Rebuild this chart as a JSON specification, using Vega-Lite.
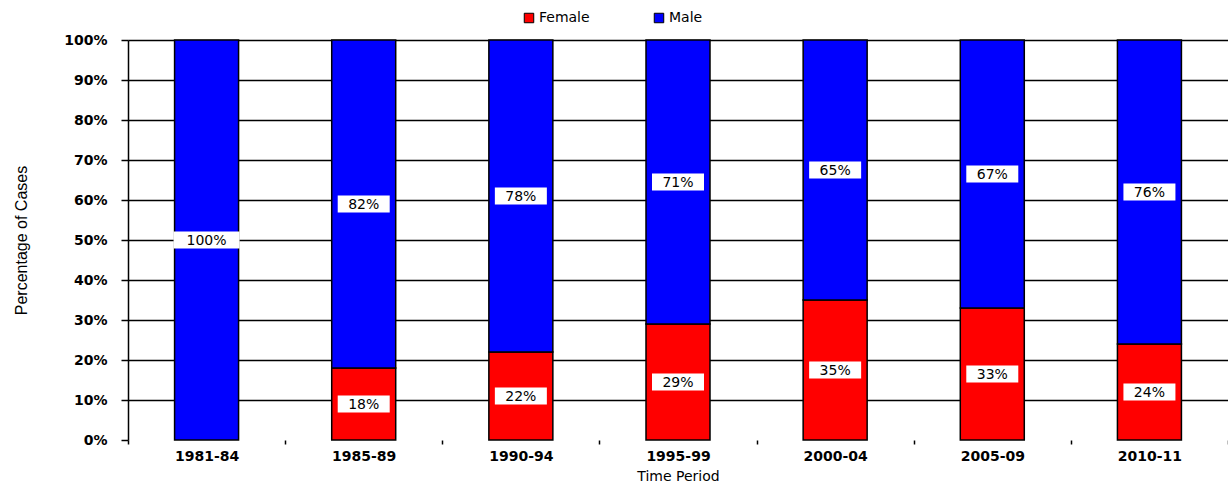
{
  "$schema": "https://vega.github.io/schema/vega-lite/v6.json",
  "width": 1100,
  "height": 400,
  "autosize": "none",
  "padding": {"left": 128, "top": 40, "right": 0, "bottom": 48},
  "background": "white",
  "config": {
    "view": {"stroke": null},
    "font": "DejaVu Sans"
  },
  "data": {
    "values": [
      {"period": "1981-84", "sex": "Male", "pct": 100},
      {"period": "1985-89", "sex": "Female", "pct": 18},
      {"period": "1985-89", "sex": "Male", "pct": 82},
      {"period": "1990-94", "sex": "Female", "pct": 22},
      {"period": "1990-94", "sex": "Male", "pct": 78},
      {"period": "1995-99", "sex": "Female", "pct": 29},
      {"period": "1995-99", "sex": "Male", "pct": 71},
      {"period": "2000-04", "sex": "Female", "pct": 35},
      {"period": "2000-04", "sex": "Male", "pct": 65},
      {"period": "2005-09", "sex": "Female", "pct": 33},
      {"period": "2005-09", "sex": "Male", "pct": 67},
      {"period": "2010-11", "sex": "Female", "pct": 24},
      {"period": "2010-11", "sex": "Male", "pct": 76}
    ]
  },
  "transform": [
    {"stack": "pct", "groupby": ["period"], "sort": [{"field": "sex", "order": "ascending"}], "as": ["y0", "y1"]},
    {"calculate": "(datum.y0 + datum.y1) / 2", "as": "mid"},
    {"calculate": "datum.pct + '%'", "as": "label"}
  ],
  "encoding": {
    "x": {
      "field": "period",
      "type": "nominal",
      "sort": null,
      "scale": {"paddingInner": 0, "paddingOuter": 0},
      "axis": {
        "title": "Time Period",
        "labelAngle": 0,
        "domain": false,
        "ticks": true,
        "tickBand": "extent",
        "tickSize": 4,
        "tickColor": "black",
        "tickWidth": 1.5,
        "labelFont": "DejaVu Sans",
        "labelFontSize": 14,
        "labelFontWeight": "bold",
        "labelColor": "black",
        "labelPadding": 5,
        "titleFont": "DejaVu Sans",
        "titleFontSize": 14,
        "titleFontWeight": "normal",
        "titleColor": "black",
        "titlePadding": 6
      }
    },
    "y": {
      "type": "quantitative",
      "scale": {"domain": [0, 100]},
      "axis": {
        "title": "Percentage of Cases",
        "values": [0, 10, 20, 30, 40, 50, 60, 70, 80, 90, 100],
        "labelOverlap": false,
        "labelExpr": "datum.value + '%'",
        "grid": true,
        "gridColor": "black",
        "gridWidth": 1.3,
        "gridOpacity": {"condition": {"test": "datum.value == 0", "value": 0}, "value": 1},
        "domainColor": "black",
        "domainWidth": 1.5,
        "tickColor": "black",
        "tickSize": 7,
        "tickWidth": 1.5,
        "labelFont": "DejaVu Sans",
        "labelFontSize": 14,
        "labelFontWeight": "bold",
        "labelColor": "black",
        "labelPadding": 14,
        "titleFont": "Liberation Sans",
        "titleFontSize": 16,
        "titleFontWeight": "normal",
        "titleColor": "black",
        "titlePadding": 34
      }
    }
  },
  "layer": [
    {
      "mark": {"type": "bar", "size": 64, "stroke": "black", "strokeWidth": 1.5},
      "encoding": {
        "y": {"field": "y0"},
        "y2": {"field": "y1"},
        "color": {
          "field": "sex",
          "type": "nominal",
          "scale": {"domain": ["Female", "Male"], "range": ["#ff0000", "#0000ff"]},
          "legend": {
            "title": null,
            "orient": "none",
            "direction": "horizontal",
            "legendX": 394,
            "legendY": -29,
            "symbolType": "square",
            "symbolSize": 90,
            "symbolStrokeColor": "black",
            "symbolStrokeWidth": 1,
            "symbolOpacity": 1,
            "labelFont": "DejaVu Sans",
            "labelFontSize": 14,
            "labelColor": "black",
            "labelOffset": 3,
            "columnPadding": 62
          }
        }
      }
    },
    {
      "transform": [{"filter": "datum.pct > 0"}],
      "mark": {"type": "tick", "color": "white", "opacity": 1, "thickness": 17, "orient": "horizontal"},
      "encoding": {
        "y": {"field": "mid"},
        "size": {"condition": {"test": "datum.pct == 100", "value": 66}, "value": 52}
      }
    },
    {
      "transform": [{"filter": "datum.pct > 0"}],
      "mark": {"type": "text", "font": "DejaVu Sans", "fontSize": 14, "color": "black", "baseline": "middle", "dy": 1},
      "encoding": {
        "y": {"field": "mid"},
        "text": {"field": "label"}
      }
    }
  ]
}
